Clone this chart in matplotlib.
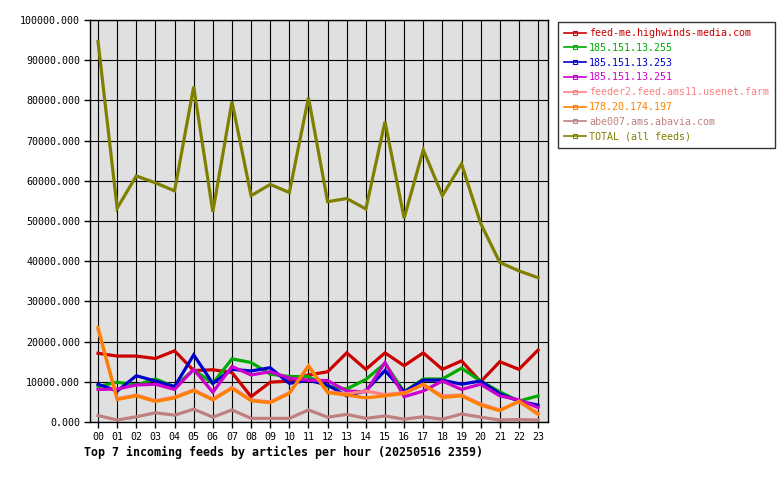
#!/usr/bin/env python

import numpy as np
import matplotlib
matplotlib.use("Agg")
import matplotlib.pyplot as plt
from matplotlib.ticker import MultipleLocator, FormatStrFormatter

########################### data ############################

hours = ["%02d" % h for h in range(24)]

feed_me = [17100, 16400, 16400, 15800, 17700, 12800, 13000, 12300, 6300, 9900, 10200, 11700,
           12500, 17200, 13100, 17200, 14000, 17200, 13100, 15200, 10000, 15000, 13100, 17900]
ip_255 = [8800, 9900, 9200, 10700, 8800, 13000, 9600, 15700, 14800, 11900, 11300, 11300,
          8800, 8200, 10600, 14600, 7500, 10700, 10700, 13400, 10200, 7500, 5200, 6500]
ip_253 = [9400, 7700, 11500, 10200, 8800, 16700, 9600, 13100, 12700, 13500, 9600, 10400,
          9200, 6500, 7800, 12800, 7500, 10400, 10400, 9400, 10200, 7000, 5200, 4200]
ip_251 = [8100, 8200, 9200, 9400, 8100, 13100, 7400, 13800, 11700, 12500, 10900, 10400,
          10300, 7700, 7500, 14800, 6300, 7700, 10200, 8100, 9400, 6500, 5500, 3600]
feeder2 = [23000, 5800, 6700, 5300, 6200, 8000, 5700, 8600, 5500, 5000, 7300, 13800,
           7500, 7000, 7700, 6800, 7300, 9200, 6500, 6700, 4500, 3000, 5000, 2200]
ip_197 = [23500, 5600, 6500, 5100, 6000, 7800, 5500, 8400, 5300, 4800, 7100, 14000,
          7300, 6700, 6000, 6500, 7100, 9400, 6100, 6500, 4200, 2800, 5200, 1900]
abe007 = [1600, 500, 1300, 2300, 1700, 3200, 1200, 3000, 900, 900, 900, 3000,
          1200, 1900, 900, 1500, 700, 1300, 700, 2000, 1200, 500, 600, 500]
total = [94600, 53200, 61200, 59500, 57500, 83400, 52300, 79700, 56300, 59100, 57100, 80700,
         54800, 55600, 53000, 74700, 50700, 67700, 56300, 64200, 49400, 39700, 37600, 35900]

labels = ["feed-me.highwinds-media.com", "185.151.13.255", "185.151.13.253", "185.151.13.251",
          "feeder2.feed.ams11.usenet.farm", "178.20.174.197", "abe007.ams.abavia.com",
          "TOTAL (all feeds)"]
colors = ["#cc0000", "#00aa00", "#0000cc", "#cc00cc", "#ff8080", "#ff8000", "#c08080", "#808000"]
series = [feed_me, ip_255, ip_253, ip_251, feeder2, ip_197, abe007, total]

########################### plot settings ############################

mono = "DejaVu Sans Mono"
plt.rcParams['font.family'] = mono
linewidth = 2.3
grid_width = 0.8
tick_labelsize = 7.2
legend_fontsize = 7.2

fig = plt.figure(figsize=(7.8, 4.8), dpi=100)
ax = fig.add_axes([90 / 780, 58 / 480, 458 / 780, 402 / 480])
ax.set_facecolor("#e0e0e0")

x = np.arange(len(hours))
for vals, col, lab in zip(series, colors, labels):
    ax.plot(x, vals, color=col, linewidth=linewidth, label=lab, solid_joinstyle='miter')

ax.set_xlim(-0.42, 23.52)
ax.set_ylim(0, 100000)
ax.set_xticks(x)
ax.set_xticklabels(hours)
ax.yaxis.set_major_locator(MultipleLocator(10000))
ax.yaxis.set_major_formatter(FormatStrFormatter('%.3f'))
ax.grid(True, color="black", linewidth=grid_width)
ax.set_axisbelow(True)
for s in ax.spines.values():
    s.set_linewidth(1)
ax.tick_params(axis='both', which='major', direction='out', length=4, width=1,
               labelsize=tick_labelsize, colors="black", pad=3)

fig.text(84 / 780, 1 - 452 / 480, "Top 7 incoming feeds by articles per hour (20250516 2359)",
         fontsize=8.4, fontweight='bold', va='center', ha='left')

# legend handles with a little marker on the line
leg_handles = [plt.Line2D([], [], color=c, linewidth=1.2, marker='s', markersize=2.5,
                          markerfacecolor='none', markeredgewidth=0.8) for c in colors]
leg = fig.legend(leg_handles, labels, loc='upper left',
                 bbox_to_anchor=(558 / 780, 1 - 22 / 480), fontsize=legend_fontsize,
                 frameon=True, fancybox=False, handlelength=2.2, handletextpad=0.3,
                 labelspacing=0.48, borderpad=0.6, borderaxespad=0)
leg.get_frame().set_edgecolor('black')
leg.get_frame().set_linewidth(1)
for t, c in zip(leg.get_texts(), colors):
    t.set_color(c)

fig.savefig("out.png", dpi=100)
